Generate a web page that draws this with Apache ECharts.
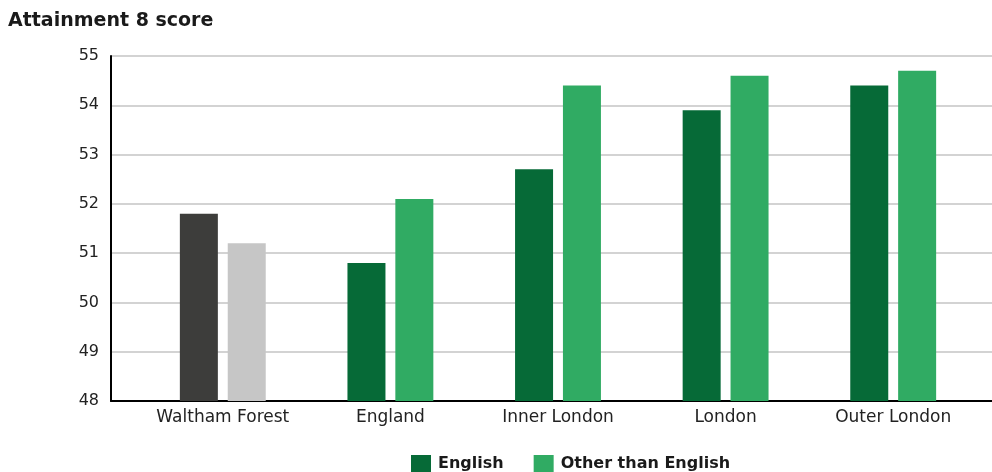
<!DOCTYPE html>
<html>
<head>
<meta charset="utf-8">
<script src="https://cdn.jsdelivr.net/npm/echarts@6/dist/echarts.min.js"></script>
<style>html,body{margin:0;padding:0;background:#fff}#c{width:992px;height:472px}</style>
</head>
<body>
<div id="c"></div>
<script>
var categories = ['Waltham Forest', 'England', 'Inner London', 'London', 'Outer London'];
var englishValues = [51.8, 50.8, 52.7, 53.9, 54.4];
var otherValues = [51.2, 52.1, 54.4, 54.6, 54.7];
var yTicks = [48, 49, 50, 51, 52, 53, 54, 55];
var seriesNames = ['English', 'Other than English'];

var highlightDark = '#3d3d3b', highlightLight = '#c6c6c6';
var greenDark = '#066a37', greenLight = '#30ab63';
var font = '"DejaVu Sans", "Noto Sans", sans-serif';

function mk(vals, base, hl) {
  return vals.map(function (v, i) {
    return i === 0 ? { value: v, itemStyle: { color: hl } } : { value: v, itemStyle: { color: base } };
  });
}

var chart = echarts.init(document.getElementById('c'));
chart.setOption({
  animation: false,
  title: {
    text: 'Attainment 8 score', left: 3, top: 7,
    textStyle: { fontFamily: font, fontSize: 19, fontWeight: 'bold', color: '#1a1a1a' }
  },
  legend: {
    left: 411, top: 455, padding: 0, itemWidth: 20, itemHeight: 18, itemGap: 30,
    icon: 'rect',
    data: seriesNames,
    textStyle: { fontFamily: font, fontSize: 16, fontWeight: 'bold', color: '#1a1a1a', padding: [1, 0, 0, 2] }
  },
  grid: [
    { left: 111, right: 0, top: 56, bottom: 71 },
    { left: 139, right: 15, top: 56, bottom: 71 }
  ],
  xAxis: [
    { gridIndex: 0, type: 'value', min: 0, max: 1,
      axisLine: { show: true, onZero: false, lineStyle: { color: '#000', width: 2 } },
      axisTick: { show: false }, axisLabel: { show: false }, splitLine: { show: false } },
    { gridIndex: 1, type: 'category', data: categories,
      axisLine: { show: false }, axisTick: { show: false },
      axisLabel: { interval: 0, margin: 8, fontFamily: font, fontSize: 17, color: '#222' } }
  ],
  yAxis: [
    { gridIndex: 0, type: 'value', min: yTicks[0], max: yTicks[yTicks.length - 1], interval: 1,
      axisLine: { show: true, lineStyle: { color: '#000', width: 2 } },
      axisTick: { show: false },
      axisLabel: { margin: 12, fontFamily: font, fontSize: 16, color: '#222' },
      splitLine: { lineStyle: { color: '#c4c4c4', width: 1.5 } } },
    { gridIndex: 1, type: 'value', min: yTicks[0], max: yTicks[yTicks.length - 1], interval: 1,
      show: false, splitLine: { show: false } }
  ],
  series: [
    { name: seriesNames[0], type: 'bar', xAxisIndex: 1, yAxisIndex: 1,
      itemStyle: { color: greenDark }, barWidth: 38, barGap: '26%',
      data: mk(englishValues, greenDark, highlightDark) },
    { name: seriesNames[1], type: 'bar', xAxisIndex: 1, yAxisIndex: 1,
      itemStyle: { color: greenLight }, barWidth: 38, barGap: '26%',
      data: mk(otherValues, greenLight, highlightLight) }
  ]
});
</script>
</body>
</html>
